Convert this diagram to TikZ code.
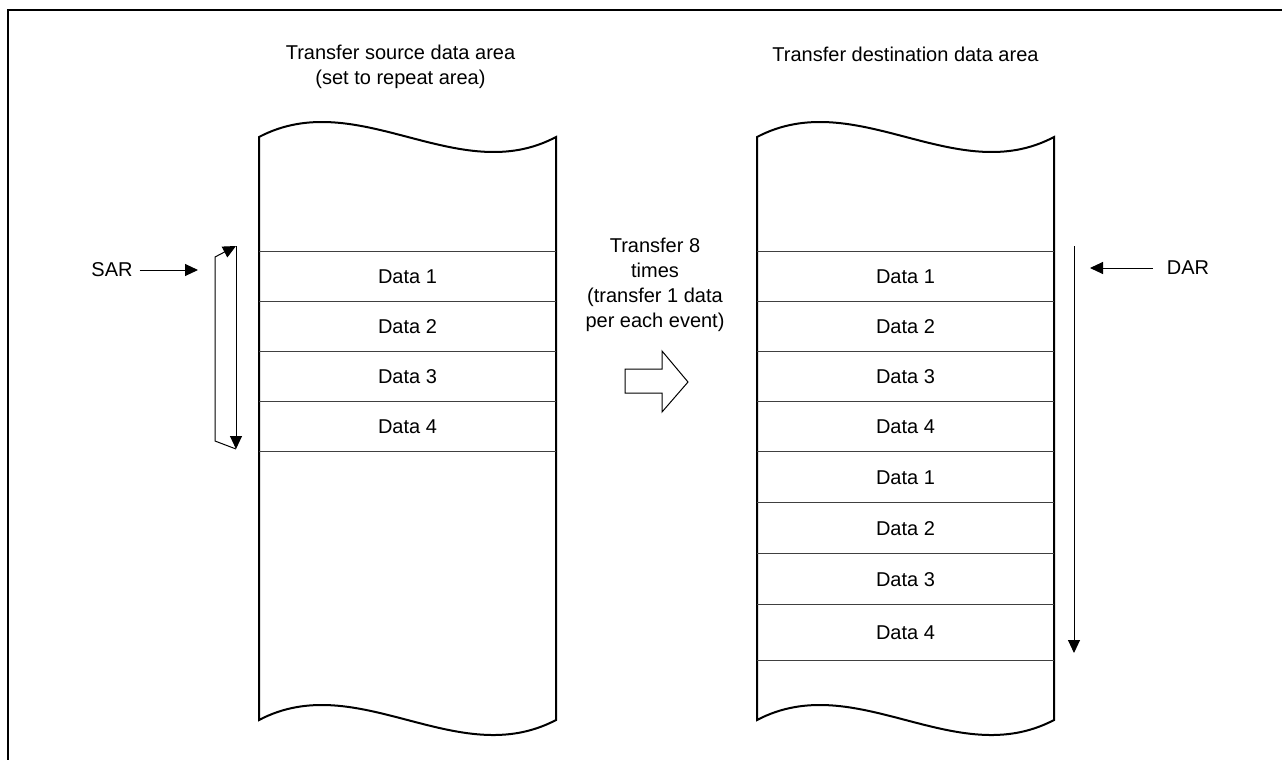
\documentclass[tikz,border=0pt]{standalone}
\usepackage{fontspec}
\setmainfont{Liberation Sans}
\usepackage{tikz}
\usetikzlibrary{arrows.meta,positioning}
\tikzset{
  framelines/.style={line width=2.5pt, line cap=rect},
  areabox/.style={line width=2pt, line join=miter},
  rowline/.style={line width=1pt, color=black!75},
  cellnode/.style={inner sep=0pt, font=\fontsize{20}{25}\selectfont},
  titlenode/.style={inner sep=0pt, align=center, font=\fontsize{20}{25}\selectfont},
  ptrarrow/.style={-{Triangle[length=13pt,width=12pt]}, line width=1pt},
  blockarrow/.style={line width=1pt, line join=miter},
}

\begin{document}
\begin{tikzpicture}[x=1pt, y=-1pt]
  \useasboundingbox (0,0) rectangle (1282,760);
  \draw[framelines] (8,760) -- (8,10) -- (1282,10);

  \foreach \l/\r in {259/556,757/1054} {
    \draw[areabox] (\l,137) .. controls ({\l+99},85) and ({\l+199},189) .. (\r,137)
      -- (\r,720) .. controls ({\r-99},772) and ({\l+99},668) .. (\l,720) -- cycle;
  }
  \foreach \y in {251,301,351,401,451}
    \draw[rowline] (259,\y) -- (556,\y);
  \foreach \y in {251,301,351,401,451,502,553,604,660}
    \draw[rowline] (757,\y) -- (1054,\y);

  \node[titlenode] (srctitle) at (400.5,67) {Transfer source data area\\(set to repeat area)};
  \node[titlenode] (dsttitle) at (905.5,54) {Transfer destination data area};

  \foreach \i/\y in {1/277,2/327,3/377,4/427}
    \node[cellnode] (src\i) at (407.5,\y) {Data \i};
  \foreach \i/\y/\n in {1/277/1,2/327/2,3/377/3,4/427/4,5/477.5/1,6/528.5/2,7/579.5/3,8/633/4}
    \node[cellnode] (dst\i) at (905.5,\y) {Data \n};

  \node[titlenode] (xfer) at (655,285) {Transfer 8\\times\\(transfer 1 data\\per each event)};
  \draw[blockarrow] (625,369) -- (662,369) -- (662,351) -- (688,382)
    -- (662,412) -- (662,393) -- (625,393) -- cycle;

  \node[cellnode, outer sep=7pt] (sar) at (112,270) {SAR};
  \coordinate (sarhit) at (198,270);
  \draw[ptrarrow] (sar.east) -- (sarhit);
  \coordinate (looptop) at (236,246);
  \coordinate (loopbot) at (236,449);
  \draw[ptrarrow] (looptop) -- (loopbot);
  \draw[ptrarrow] (loopbot) -- (215,441) -- (215,257) -- (looptop);

  \node[cellnode] (dar) at (1188,268) {DAR};
  \coordinate (darhit) at (1090,268);
  \draw[ptrarrow] ([xshift=-14pt]dar.west) -- (darhit);
  \coordinate (dartop) at (1074,246);
  \coordinate (darbot) at (1074,653);
  \draw[ptrarrow] (dartop) -- (darbot);
\end{tikzpicture}
\end{document}
